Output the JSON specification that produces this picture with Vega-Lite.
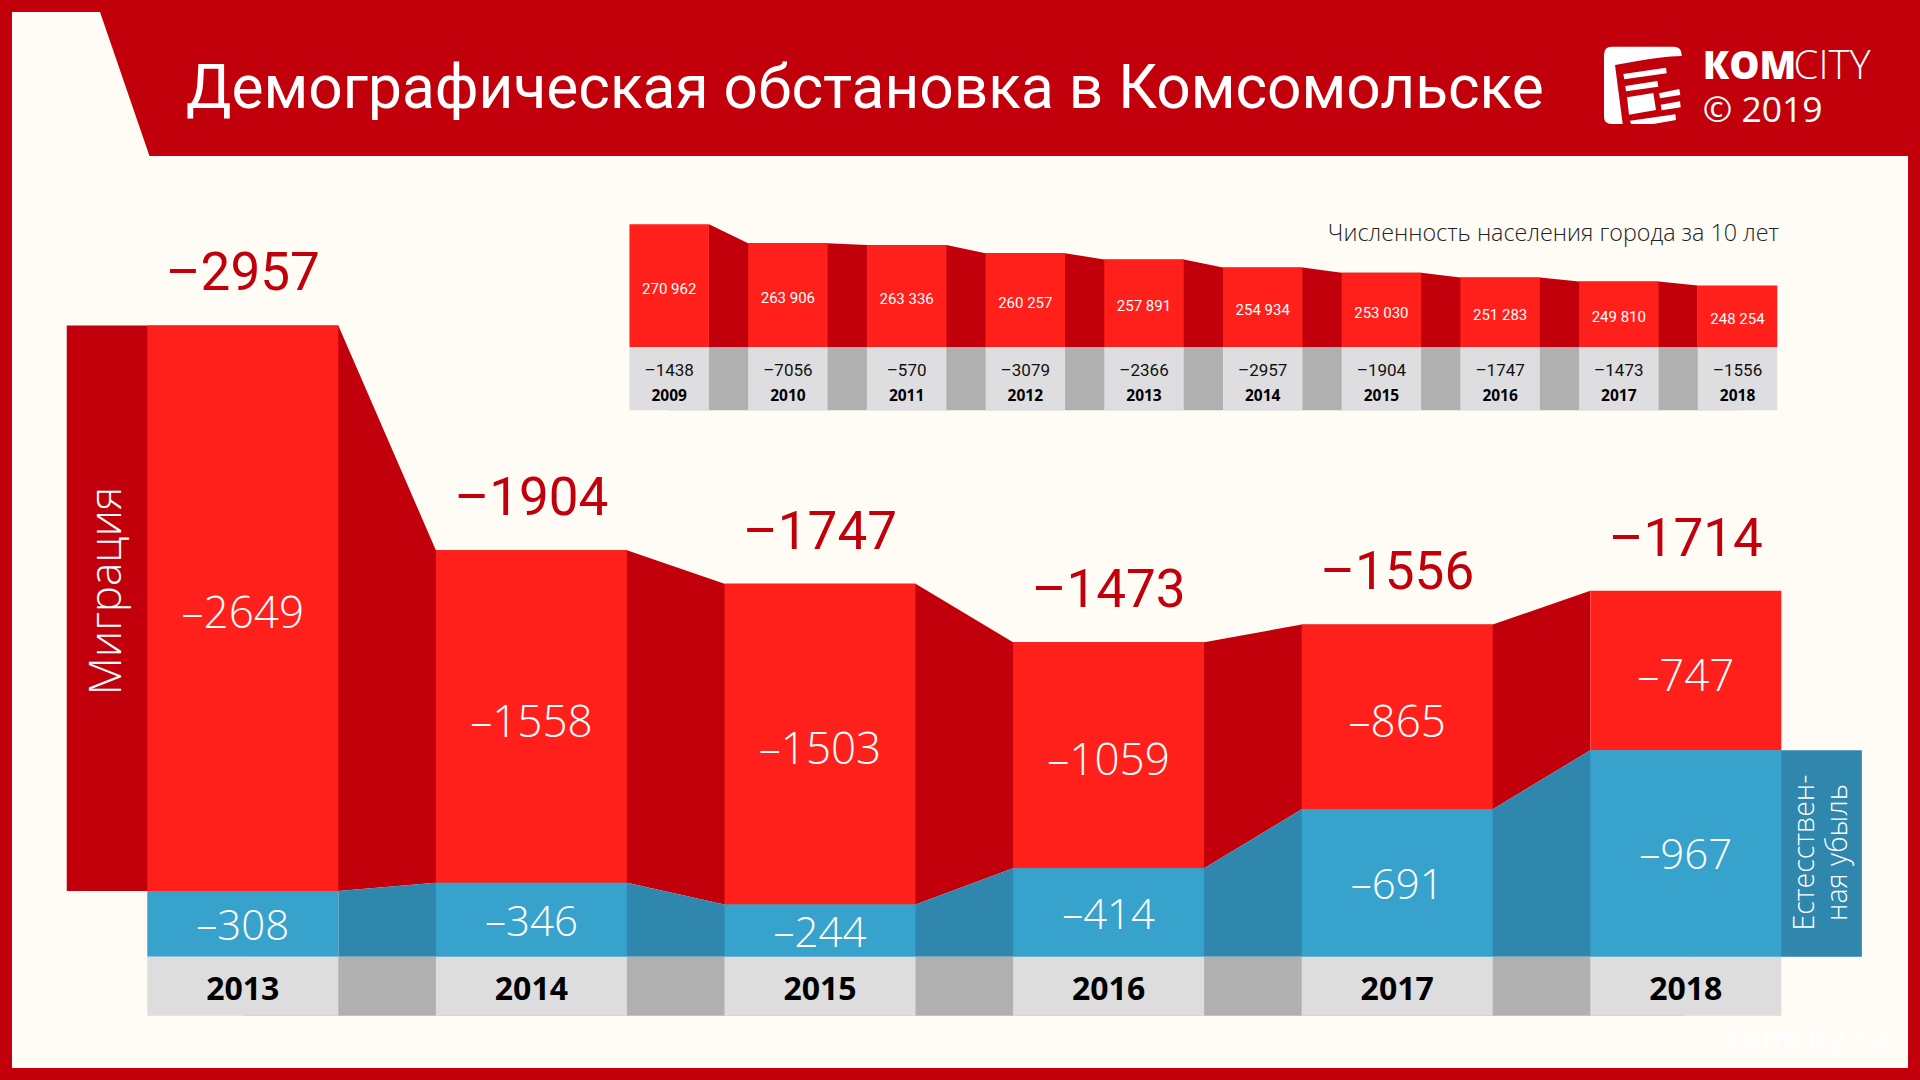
{
"$schema":"https://vega.github.io/schema/vega-lite/v6.json",
"width":1896,"height":1056,"autosize":{"type":"none"},
"padding":12,
"background":"#C1000B",
"view":{"fill":"#FFFBF5","stroke":null},
"config":{"axis":{"disable":true},"view":{"stroke":null},"locale":{"number":{"decimal":",","thousands":" ","grouping":[3],"currency":["",""],"minus":"–"}}},
"datasets":{
"one":[{"k":1}],
"yearly":[
{"year":2013,"total":-2957,"migration":-2649,"natural":-308,"base":0},
{"year":2014,"total":-1904,"migration":-1558,"natural":-346,"base":0},
{"year":2015,"total":-1747,"migration":-1503,"natural":-244,"base":0},
{"year":2016,"total":-1473,"migration":-1059,"natural":-414,"base":0},
{"year":2017,"total":-1556,"migration":-865,"natural":-691,"base":0},
{"year":2018,"total":-1714,"migration":-747,"natural":-967,"base":0}],
"migrationEdges":[
{"edge":2012.39,"total":-2957,"natural":-308},{"edge":2013.331,"total":-2957,"natural":-308},
{"edge":2013.669,"total":-1904,"natural":-346},{"edge":2014.331,"total":-1904,"natural":-346},
{"edge":2014.669,"total":-1747,"natural":-244},{"edge":2015.331,"total":-1747,"natural":-244},
{"edge":2015.669,"total":-1473,"natural":-414},{"edge":2016.331,"total":-1473,"natural":-414},
{"edge":2016.669,"total":-1556,"natural":-691},{"edge":2017.331,"total":-1556,"natural":-691},
{"edge":2017.669,"total":-1714,"natural":-967}],
"naturalEdges":[
{"edge":2013.331,"natural":-308},{"edge":2013.669,"natural":-346},{"edge":2014.331,"natural":-346},
{"edge":2014.669,"natural":-244},{"edge":2015.331,"natural":-244},{"edge":2015.669,"natural":-414},
{"edge":2016.331,"natural":-414},{"edge":2016.669,"natural":-691},{"edge":2017.331,"natural":-691},
{"edge":2017.669,"natural":-967},{"edge":2018.61,"natural":-967}],
"population":[
{"year":2009,"population":270962,"change":-1438},{"year":2010,"population":263906,"change":-7056},
{"year":2011,"population":263336,"change":-570},{"year":2012,"population":260257,"change":-3079},
{"year":2013,"population":257891,"change":-2366},{"year":2014,"population":254934,"change":-2957},
{"year":2015,"population":253030,"change":-1904},{"year":2016,"population":251283,"change":-1747},
{"year":2017,"population":249810,"change":-1473},{"year":2018,"population":248254,"change":-1556}],
"populationEdges":[
{"edge":2009.335,"population":270962},{"edge":2009.665,"population":263906},{"edge":2010.335,"population":263906},
{"edge":2010.665,"population":263336},{"edge":2011.335,"population":263336},{"edge":2011.665,"population":260257},
{"edge":2012.335,"population":260257},{"edge":2012.665,"population":257891},{"edge":2013.335,"population":257891},
{"edge":2013.665,"population":254934},{"edge":2014.335,"population":254934},{"edge":2014.665,"population":253030},
{"edge":2015.335,"population":253030},{"edge":2015.665,"population":251283},{"edge":2016.335,"population":251283},
{"edge":2016.665,"population":249810},{"edge":2017.335,"population":249810},{"edge":2017.665,"population":248254}]
},
"resolve":{"scale":{"x":"independent","y":"independent"}},
"layer":[
{"layer":[
{"data":{"name":"one"},
 "mark":{"type":"point","shape":"M-142.8,-944.7L-93.3,-800.7L1665.2,-800.7L1665.2,-944.7Z","size":4,"filled":true,"fill":"#C1000B","opacity":1,"strokeWidth":0},
 "encoding":{"x":{"datum":2013,"type":"quantitative","scale":{"domain":[2012.2003,2018.7699],"nice":false,"zero":false,"padding":0}},"y":{"datum":0,"type":"quantitative","scale":{"domain":[521.3,-4424.8],"nice":false,"zero":false,"padding":0}}}},
{"data":{"name":"one"},
 "mark":{"type":"point","shape":"M-39,-30Q-39,-38.3,-31.3,-38.3L30.3,-38.3Q38.7,-38.3,38.7,-30L38.7,-29Q17,-28.3,-9.7,-23.3L-28,-20L-20.3,39L-31.3,39Q-39,39,-39,31.7ZM-19.7,-11L23,-17.3L23.7,-11.7L-18.7,-5.7ZM-17.7,1L14.3,-4L15.3,1.7L-17,6.3ZM-16,12.3L10.3,8L13,25L-14,29.7ZM16,8.3L36.3,4L37.3,10L17,13.3ZM17.7,19.7L37,16.3L37.7,22.3L18.7,25.3ZM-13,35.7L32.3,29.3L33,35L10.3,39L-12,39Z","size":4,"filled":true,"fill":"#FFFFFF","opacity":1,"strokeWidth":0},
 "encoding":{"x":{"datum":2017.8517},"y":{"datum":-4083}}},
{"data":{"name":"one"},"mark":{"type":"text","text":"Демографическая обстановка в Комсомольске","font":"Roboto","fontSize":60.4,"fill":"#FFFFFF","align":"left","baseline":"alphabetic"},
 "encoding":{"x":{"datum":2012.8032},"y":{"datum":-3975.3}}},
{"data":{"name":"one"},"mark":{"type":"text","text":"КОМ","font":"Open Sans","fontWeight":800,"fontSize":38,"fill":"#FFFFFF","align":"left","baseline":"alphabetic"},
 "encoding":{"x":{"datum":2018.0585},"y":{"datum":-4111}}},
{"data":{"name":"one"},"mark":{"type":"text","text":"CITY","font":"Open Sans","fontWeight":300,"fontSize":40,"fill":"#FFFFFF","align":"left","baseline":"alphabetic"},
 "encoding":{"x":{"datum":2018.3735},"y":{"datum":-4111}}},
{"data":{"name":"one"},"mark":{"type":"text","text":"© 2019","font":"Open Sans","fontSize":35.5,"fill":"#FFFFFF","align":"left","baseline":"alphabetic"},
 "encoding":{"x":{"datum":2018.0585},"y":{"datum":-3909.7}}},
{"data":{"name":"one"},"mark":{"type":"text","text":"Численность населения города за 10 лет","font":"Open Sans","fontWeight":300,"fontSize":23.3,"fill":"#222222","align":"right","baseline":"alphabetic"},
 "encoding":{"x":{"datum":2018.3229},"y":{"datum":-3352.3}}},
{"data":{"name":"one"},"mark":{"type":"text","text":"komcity.ru","font":"Open Sans","fontWeight":700,"fontSize":30,"fill":"#FFFFFF","opacity":0.8,"align":"center","baseline":"middle"},
 "encoding":{"x":{"datum":2018.418},"y":{"datum":390}}},
{"data":{"name":"migrationEdges"},"mark":{"type":"area","orient":"vertical","fill":"#C1000B"},
 "encoding":{"x":{"field":"edge","type":"quantitative"},"y":{"field":"total","type":"quantitative"},"y2":{"field":"natural"}}},
{"data":{"name":"naturalEdges"},"mark":{"type":"area","orient":"vertical","fill":"#2F87AD"},
 "encoding":{"x":{"field":"edge","type":"quantitative"},"y":{"field":"natural","type":"quantitative"},"y2":{"datum":0}}},
{"data":{"name":"one"},"mark":{"type":"rect","fill":"#B0B0B0"},
 "encoding":{"x":{"datum":2013},"x2":{"datum":2018},"y":{"datum":0},"y2":{"datum":276}}},
{"data":{"name":"yearly"},"mark":{"type":"bar","width":191,"fill":"#FF1F1B"},
 "encoding":{"x":{"field":"year","type":"quantitative"},"y":{"field":"total","type":"quantitative"},"y2":{"field":"natural"}}},
{"data":{"name":"yearly"},"mark":{"type":"bar","width":191,"fill":"#37A2CB"},
 "encoding":{"x":{"field":"year","type":"quantitative"},"y":{"field":"natural","type":"quantitative"},"y2":{"datum":0}}},
{"data":{"name":"yearly"},"mark":{"type":"bar","width":191,"fill":"#DDDDDD"},
 "encoding":{"x":{"field":"year","type":"quantitative"},"y":{"datum":0},"y2":{"datum":276}}},
{"data":{"name":"yearly"},"mark":{"type":"text","font":"Open Sans","fontWeight":700,"fontSize":32,"fill":"#000000","baseline":"middle","dy":2},
 "encoding":{"x":{"field":"year","type":"quantitative"},"y":{"datum":146.6},"text":{"field":"year","type":"quantitative","format":"d"}}},
{"data":{"name":"yearly"},"mark":{"type":"text","font":"Roboto","fontSize":53,"fill":"#C1000B","baseline":"alphabetic","dy":-35},
 "encoding":{"x":{"field":"year","type":"quantitative"},"y":{"field":"total","type":"quantitative"},"text":{"field":"total","type":"quantitative","format":"d"}}},
{"data":{"name":"yearly"},
 "transform":[{"fold":["total","natural"],"as":["part","edgeValue"]},{"aggregate":[{"op":"mean","field":"edgeValue","as":"mid"}],"groupby":["year","migration"]}],
 "mark":{"type":"text","font":"Open Sans","fontWeight":300,"fontSize":44,"fill":"#FFFFFF","baseline":"middle","dy":7},
 "encoding":{"x":{"field":"year","type":"quantitative"},"y":{"field":"mid","type":"quantitative"},"text":{"field":"migration","type":"quantitative","format":"d"}}},
{"data":{"name":"yearly"},
 "transform":[{"fold":["natural","base"],"as":["part","edgeValue"]},{"aggregate":[{"op":"mean","field":"edgeValue","as":"mid"}],"groupby":["year","natural"]}],
 "mark":{"type":"text","font":"Open Sans","fontWeight":300,"fontSize":42,"fill":"#FFFFFF","baseline":"middle","dy":3},
 "encoding":{"x":{"field":"year","type":"quantitative"},"y":{"field":"mid","type":"quantitative"},"text":{"field":"natural","type":"quantitative","format":"d"}}},
{"data":{"name":"one"},"mark":{"type":"text","text":"Миграция","font":"Open Sans","fontWeight":300,"fontSize":44,"fill":"#FFFFFF","angle":270,"align":"center","baseline":"middle"},
 "encoding":{"x":{"datum":2012.5329},"y":{"datum":-1713}}},
{"data":{"name":"one"},"mark":{"type":"text","text":"Естесствен-","font":"Open Sans","fontWeight":300,"fontSize":28.5,"fill":"#FFFFFF","angle":270,"align":"center","baseline":"middle"},
 "encoding":{"x":{"datum":2018.413},"y":{"datum":-488}}},
{"data":{"name":"one"},"mark":{"type":"text","text":"ная убыль","font":"Open Sans","fontWeight":300,"fontSize":28.5,"fill":"#FFFFFF","angle":270,"align":"center","baseline":"middle"},
 "encoding":{"x":{"datum":2018.527},"y":{"datum":-488}}}
]},
{"layer":[
{"data":{"name":"populationEdges"},"mark":{"type":"area","orient":"vertical","fill":"#C1000B"},
 "encoding":{"x":{"field":"edge","type":"quantitative","scale":{"domain":[2003.4634,2019.4363],"nice":false,"zero":false,"padding":0}},"y":{"field":"population","type":"quantitative","scale":{"domain":[-41519,349592],"nice":false,"zero":false,"padding":0}},"y2":{"datum":225518}}},
{"data":{"name":"one"},"mark":{"type":"rect","fill":"#B0B0B0"},
 "encoding":{"x":{"datum":2009},"x2":{"datum":2018},"y":{"datum":225518},"y2":{"datum":202073}}},
{"data":{"name":"population"},"mark":{"type":"bar","width":79.5,"fill":"#FF1F1B"},
 "encoding":{"x":{"field":"year","type":"quantitative"},"y":{"field":"population","type":"quantitative"},"y2":{"datum":225518}}},
{"data":{"name":"population"},"mark":{"type":"bar","width":79.5,"fill":"#DEDEE0"},
 "encoding":{"x":{"field":"year","type":"quantitative"},"y":{"datum":225518},"y2":{"datum":202073}}},
{"data":{"name":"population"},"mark":{"type":"text","font":"Roboto","fontSize":17,"fill":"#111111","baseline":"middle","dy":2},
 "encoding":{"x":{"field":"year","type":"quantitative"},"y":{"datum":217369},"text":{"field":"change","type":"quantitative","format":"d"}}},
{"data":{"name":"population"},"mark":{"type":"text","font":"Open Sans","fontWeight":700,"fontSize":15.5,"fill":"#000000","baseline":"middle","dy":1},
 "encoding":{"x":{"field":"year","type":"quantitative"},"y":{"datum":207740},"text":{"field":"year","type":"quantitative","format":"d"}}}
]},
{"data":{"name":"population"},"mark":{"type":"text","font":"Roboto","fontSize":15,"fill":"#FFFFFF","baseline":"middle","dy":3},
 "encoding":{"x":{"field":"year","type":"quantitative","scale":{"domain":[2003.4634,2019.4363],"nice":false,"zero":false,"padding":0}},"y":{"field":"population","type":"quantitative","scale":{"domain":[-308556,473666],"nice":false,"zero":false,"padding":0}},"text":{"field":"population","type":"quantitative","format":",d"}}}
]
}
